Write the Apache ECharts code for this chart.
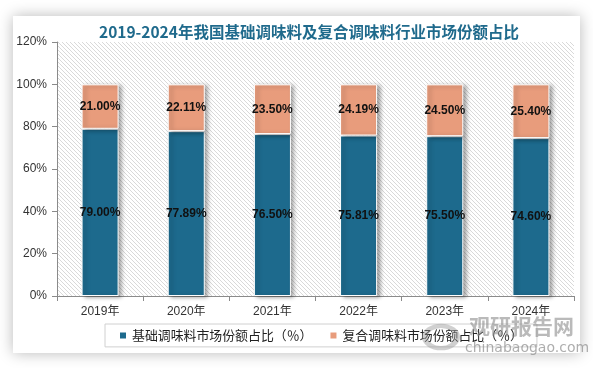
<!DOCTYPE html>
<html>
<head>
<meta charset="utf-8">
<script src="https://cdn.jsdelivr.net/npm/echarts@6/dist/echarts.min.js"></script>
<style>
html,body{margin:0;padding:0;background:#fff;}
#chart{width:593px;height:368px;}
</style>
</head>
<body>
<div id="chart"></div>
<script>
const categories = ['2019年','2020年','2021年','2022年','2023年','2024年'];
const basicShare = [79.00, 77.89, 76.50, 75.81, 75.50, 74.60];
const compoundShare = [21.00, 22.11, 23.50, 24.19, 24.50, 25.40];
const seriesNames = ['基础调味料市场份额占比（％）', '复合调味料市场份额占比（％）'];
const titleText = '2019-2024年我国基础调味料及复合调味料行业市场份额占比';

// hatch pattern for plot background
const tile = document.createElement('canvas');
tile.width = 4; tile.height = 4;
const tctx = tile.getContext('2d');
tctx.fillStyle = '#ffffff';
tctx.fillRect(0,0,4,4);
tctx.fillStyle = '#d9d9d9';
for (let i = 0; i < 4; i++) { tctx.fillRect(i, i, 1, 1); }

const chart = echarts.init(document.getElementById('chart'), null, {renderer:'canvas'});
const labelStyle = {
  show: true, position: 'inside', color: '#111', fontWeight: 'bold',
  fontFamily: 'Liberation Sans, Arial, sans-serif', fontSize: 12,
  formatter: p => p.value.toFixed(2) + '%'
};
const barShadow = {
  borderColor: '#fff', borderWidth: 1,
  shadowColor: 'rgba(0,0,0,0.35)', shadowBlur: 4, shadowOffsetX: 3, shadowOffsetY: 1
};
chart.setOption({
  backgroundColor: '#ffffff',
  animation: false,
  title: {
    text: titleText, left: 94, top: 19,
    textStyle: { color: '#1F6A8C', fontSize: 15.5, fontWeight: 'bold',
      fontFamily: '"Noto Sans CJK SC", sans-serif' }
  },
  graphic: [
    { type: 'rect', z: -10, shape: { x: 13, y: 16, width: 567, height: 337 },
      style: { fill: '#fff', shadowBlur: 14, shadowColor: 'rgba(0,0,0,0.28)' } },
    { type: 'ring', z: 100, shape: { cx: 441, cy: 337, r: 19, r0: 13 },
      style: { fill: 'rgba(150,150,150,0.45)' }, scaleY: 0.7, originX: 441, originY: 337 },
    { type: 'text', z: 100, left: 469, top: 316,
      style: { text: '观研报告网', fill: 'rgba(140,140,140,0.6)', fontSize: 21, fontWeight: 'bold',
        fontFamily: '"Noto Sans CJK SC", sans-serif' } },
    { type: 'text', z: 100, left: 465, top: 341,
      style: { text: 'chinabaogao.com', fill: 'rgba(140,140,140,0.7)', fontSize: 14,
        fontFamily: 'DejaVu Sans, sans-serif' } }
  ],
  legend: {
    data: seriesNames, left: 105, top: 324,
    padding: [5, 14, 5, 13],
    borderColor: '#d0d0d0', borderWidth: 1,
    itemWidth: 8, itemHeight: 8, itemGap: 16,
    icon: 'rect',
    textStyle: { color: '#222', fontSize: 12.9, fontFamily: '"Noto Sans CJK SC", sans-serif' }
  },
  grid: {
    left: 57, right: 19, top: 42, bottom: 72, show: true, borderWidth: 0,
    backgroundColor: { image: tile, repeat: 'repeat' }
  },
  xAxis: {
    type: 'category', data: categories,
    axisLine: { lineStyle: { color: '#8a8a8a' } },
    axisTick: { show: true, length: 5, lineStyle: { color: '#8a8a8a' } },
    axisLabel: { color: '#333', fontSize: 12, margin: 10,
      fontFamily: 'Liberation Sans, "Noto Sans CJK SC", sans-serif' }
  },
  yAxis: {
    type: 'value', min: 0, max: 120, interval: 20,
    axisLine: { show: true, lineStyle: { color: '#8a8a8a' } },
    axisTick: { show: true, length: 5, lineStyle: { color: '#8a8a8a' } },
    splitLine: { show: false },
    axisLabel: { color: '#333', fontSize: 12, margin: 10, formatter: '{value}%',
      fontFamily: 'Liberation Sans, Arial, sans-serif' }
  },
  series: [
    { name: seriesNames[0], type: 'bar', stack: 'total', data: basicShare, barWidth: '43%',
      itemStyle: Object.assign({ color: '#1D6A8D' }, barShadow), label: labelStyle },
    { name: seriesNames[1], type: 'bar', stack: 'total', data: compoundShare, barWidth: '43%',
      itemStyle: Object.assign({ color: '#E89C7C' }, barShadow), label: labelStyle }
  ]
});
</script>
</body>
</html>
